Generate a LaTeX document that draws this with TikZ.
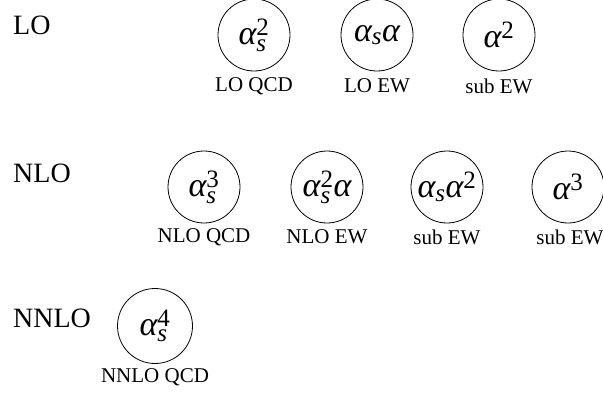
\documentclass[tikz,border=0pt]{standalone}
\usepackage{amsmath}
\usepackage{fontspec}
\setmainfont{Liberation Serif}
\DeclareMathSizes{34}{34}{25}{18}
\newcommand\al{\textit{α}}
\newcommand\als{\textit{α}_{\textit{s}}}
\newcommand\up[1]{\textup{#1}}
\tikzset{
  order/.style={circle, draw, line width=0.8pt, minimum size=72pt, inner sep=0pt, font=\fontsize{34}{40}\selectfont},
  bigorder/.style={order, minimum size=75pt},
  caption/.style={font=\fontsize{21}{24}\selectfont, inner sep=0pt},
  rowlabel/.style={anchor=west, font=\fontsize{28}{32}\selectfont, inner sep=0pt}
}
\begin{document}
\begin{tikzpicture}[x=1pt, y=-1pt]
\useasboundingbox (0,0) rectangle (603,394);
% row labels
\node[rowlabel] (lo)   at (13,25)  {LO};
\node[rowlabel] (nlo)  at (13,173) {NLO};
\node[rowlabel] (nnlo) at (13,318) {NNLO};
% LO row
\node[order] (c11) at (254,35) {$\als^{\up{2}}$};
\node[order] (c12) at (377,35) {$\als\al$};
\node[order] (c13) at (499,35) {$\al^{\up{2}}$};
\node[caption] (l11) at (254,86) {LO QCD};
\node[caption] (l12) at (377,86) {LO EW};
\node[caption] (l13) at (499,86) {sub EW};
% NLO row
\node[order] (c21) at (204,187) {$\als^{\up{3}}$};
\node[order] (c22) at (327,187) {$\als^{\up{2}}\al$};
\node[order] (c23) at (447,187) {$\als\al^{\up{2}}$};
\node[order] (c24) at (568,187) {$\al^{\up{3}}$};
\node[caption] (l21) at (204,237) {NLO QCD};
\node[caption] (l22) at (327,237) {NLO EW};
\node[caption] (l23) at (447,237) {sub EW};
\node[caption] (l24) at (570,237) {sub EW};
% NNLO row
\node[bigorder] (c31) at (155,326) {$\als^{\up{4}}$};
\node[caption] (l31) at (155,377) {NNLO QCD};
\end{tikzpicture}
\end{document}
